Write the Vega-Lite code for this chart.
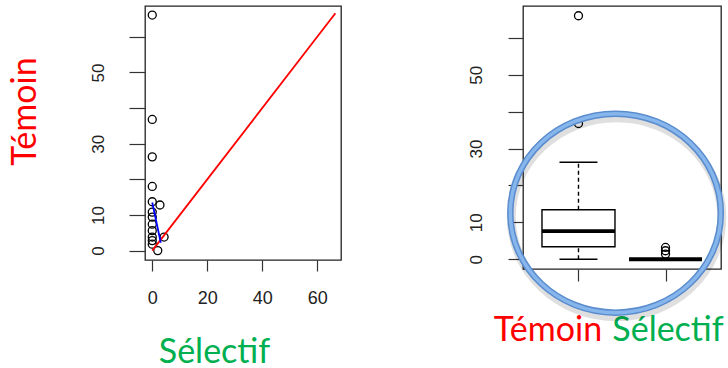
{
  "$schema": "https://vega.github.io/schema/vega-lite/v6.json",
  "padding": {"left": 7, "top": 5, "right": 0, "bottom": 0},
  "background": "white",
  "spacing": 124,
  "config": {
    "view": {"stroke": "#222", "strokeWidth": 1.3},
    "axis": {"grid": false, "domain": false, "tickColor": "#333", "tickWidth": 1.2, "labelColor": "#222", "labelFont": "Liberation Sans", "titleFontWeight": "normal", "labelFlush": false, "labelOverlap": false}
  },
  "datasets": {
    "pairs": [
      {"S": 0, "T": 66.1}, {"S": 0, "T": 36.8}, {"S": 0, "T": 26.3}, {"S": 0, "T": 18},
      {"S": 0, "T": 13.7}, {"S": 2.8, "T": 12.8}, {"S": 0, "T": 10.8}, {"S": 0, "T": 9.4},
      {"S": 0, "T": 7.4}, {"S": 0, "T": 5.6}, {"S": 0, "T": 3.8}, {"S": 0, "T": 2.8},
      {"S": 0, "T": 1.8}, {"S": 4.3, "T": 3.8}, {"S": 2, "T": 0}
    ],
    "diag": [{"S": 0, "T": 0}, {"S": 66.6, "T": 66.6}],
    "trend": [{"S": 0, "T": 13.5}, {"S": 3.1, "T": 2.2}],
    "boxes": [
      {"g": 1, "lower": 0, "q1": 3.4, "median": 7.6, "q3": 13.4, "upper": 26.3},
      {"g": 2, "lower": 0, "q1": 0, "median": 0, "q3": 0, "upper": 0}
    ],
    "outliers": [
      {"g": 1, "v": 36.8}, {"g": 1, "v": 66}, {"g": 2, "v": 1.4}, {"g": 2, "v": 2.3}, {"g": 2, "v": 3.2}
    ],
    "ring": [{"g": 1.426, "v": 12.5}]
  },
  "hconcat": [
    {
      "width": 196,
      "height": 254,
      "layer": [
        {
          "data": {"name": "pairs"},
          "mark": {"type": "point", "shape": "circle", "size": 64, "filled": false, "color": "black", "strokeWidth": 1.3, "opacity": 1},
          "encoding": {
            "x": {
              "field": "S", "type": "quantitative",
              "scale": {"domain": [-2.64, 68.64], "nice": false, "zero": false},
              "axis": {
                "values": [0, 10, 20, 30, 40, 50, 60],
                "labelExpr": "datum.value % 20 == 0 ? datum.label : ''",
                "labelFontSize": 18, "tickSize": 11, "labelPadding": 18, "labelAngle": 0,
                "title": "Sélectif", "titleColor": "#00b050", "titleFont": "Lato", "titleFontSize": 34,
                "titleAlign": "center", "titleBaseline": "alphabetic", "titleX": 69, "titleY": 102
              }
            },
            "y": {
              "field": "T", "type": "quantitative",
              "scale": {"domain": [-2.64, 68.64], "nice": false, "zero": false},
              "axis": {
                "values": [0, 10, 20, 30, 40, 50, 60],
                "labelExpr": "datum.value == 20 || datum.value == 40 || datum.value == 60 ? '' : datum.label",
                "labelAngle": 270, "labelAlign": "center", "labelBaseline": "bottom",
                "labelFontSize": 17, "tickSize": 16, "labelPadding": 22,
                "title": "Témoin", "titleColor": "#ff0000", "titleFont": "Lato", "titleFontSize": 34,
                "titleAngle": 270, "titleAlign": "center", "titleBaseline": "alphabetic", "titleX": -110, "titleY": 105
              }
            }
          }
        },
        {
          "data": {"name": "diag"},
          "mark": {"type": "line", "color": "#ff0000", "strokeWidth": 1.8},
          "encoding": {
            "x": {"field": "S", "type": "quantitative", "scale": {"domain": [-2.64, 68.64], "nice": false, "zero": false}},
            "y": {"field": "T", "type": "quantitative", "scale": {"domain": [-2.64, 68.64], "nice": false, "zero": false}}
          }
        },
        {
          "data": {"name": "trend"},
          "mark": {"type": "line", "color": "#0000ff", "strokeWidth": 1.8},
          "encoding": {
            "x": {"field": "S", "type": "quantitative", "scale": {"domain": [-2.64, 68.64], "nice": false, "zero": false}},
            "y": {"field": "T", "type": "quantitative", "scale": {"domain": [-2.64, 68.64], "nice": false, "zero": false}}
          }
        }
      ]
    },
    {
      "width": 198,
      "height": 263,
      "encoding": {
        "x": {
          "field": "g", "type": "quantitative",
          "scale": {"domain": [0.42, 2.58], "nice": false, "zero": false},
          "axis": {
            "values": [1, 2],
            "labelExpr": "datum.value == 1 ? 'Témoin' : 'Sélectif'",
            "labelColor": {"expr": "datum.value == 1 ? '#ff0000' : '#00b050'"},
            "labelOffset": {"expr": "datum.value == 1 ? -31 : 2"},
            "labelFont": "Lato", "labelFontSize": 34, "labelBaseline": "alphabetic", "labelAlign": "center",
            "labelAngle": 0, "tickSize": 12, "labelPadding": 59, "title": null
          }
        }
      },
      "layer": [
        {
          "data": {"name": "boxes"},
          "mark": {"type": "rule", "strokeDash": [4, 3], "strokeWidth": 1.4, "color": "black"},
          "encoding": {
            "y": {
              "field": "q3", "type": "quantitative",
              "scale": {"domain": [-2.64, 68.64], "nice": false, "zero": false},
              "axis": {
                "values": [0, 10, 20, 30, 40, 50, 60],
                "labelExpr": "datum.value == 20 || datum.value == 40 || datum.value == 60 ? '' : datum.label",
                "labelAngle": 270, "labelAlign": "center", "labelBaseline": "bottom",
                "labelFontSize": 17, "tickSize": 15, "labelPadding": 23, "title": null
              }
            },
            "y2": {"field": "upper"}
          }
        },
        {
          "data": {"name": "boxes"},
          "mark": {"type": "rule", "strokeDash": [4, 3], "strokeWidth": 1.4, "color": "black"},
          "encoding": {"y": {"field": "lower", "type": "quantitative"}, "y2": {"field": "q1"}}
        },
        {
          "data": {"name": "boxes"},
          "mark": {"type": "tick", "orient": "horizontal", "size": 38, "thickness": 1.4, "color": "black", "opacity": 1},
          "encoding": {"y": {"field": "upper", "type": "quantitative"}}
        },
        {
          "data": {"name": "boxes"},
          "mark": {"type": "tick", "orient": "horizontal", "size": 38, "thickness": 1.4, "color": "black", "opacity": 1},
          "encoding": {"y": {"field": "lower", "type": "quantitative"}}
        },
        {
          "data": {"name": "boxes"},
          "mark": {"type": "bar", "size": 73, "fill": "white", "stroke": "black", "strokeWidth": 1.4},
          "encoding": {"y": {"field": "q1", "type": "quantitative"}, "y2": {"field": "q3"}}
        },
        {
          "data": {"name": "boxes"},
          "mark": {"type": "tick", "orient": "horizontal", "size": 73, "thickness": 3.8, "color": "black", "opacity": 1},
          "encoding": {"y": {"field": "median", "type": "quantitative"}}
        },
        {
          "data": {"name": "outliers"},
          "mark": {"type": "point", "shape": "circle", "size": 64, "filled": false, "color": "black", "strokeWidth": 1.3, "opacity": 1},
          "encoding": {"y": {"field": "v", "type": "quantitative"}}
        },
        {
          "data": {"name": "ring"},
          "mark": {"type": "point", "shape": "M -1.058 0 A 1.058 1 0 1 1 1.058 0 A 1.058 1 0 1 1 -1.058 0 Z", "size": 39601, "filled": false, "color": "#000000", "strokeWidth": 9, "opacity": 0.12, "xOffset": 1, "yOffset": 4},
          "encoding": {"y": {"field": "v", "type": "quantitative"}}
        },
        {
          "data": {"name": "ring"},
          "mark": {"type": "point", "shape": "M -1.058 0 A 1.058 1 0 1 1 1.058 0 A 1.058 1 0 1 1 -1.058 0 Z", "size": 39601, "filled": false, "color": "#5a8cce", "strokeWidth": 6.5, "opacity": 1},
          "encoding": {"y": {"field": "v", "type": "quantitative"}}
        },
        {
          "data": {"name": "ring"},
          "mark": {"type": "point", "shape": "M -1.058 0 A 1.058 1 0 1 1 1.058 0 A 1.058 1 0 1 1 -1.058 0 Z", "size": 39601, "filled": false, "color": "#86b6ec", "strokeWidth": 3.5, "opacity": 1},
          "encoding": {"y": {"field": "v", "type": "quantitative"}}
        }
      ]
    }
  ]
}
